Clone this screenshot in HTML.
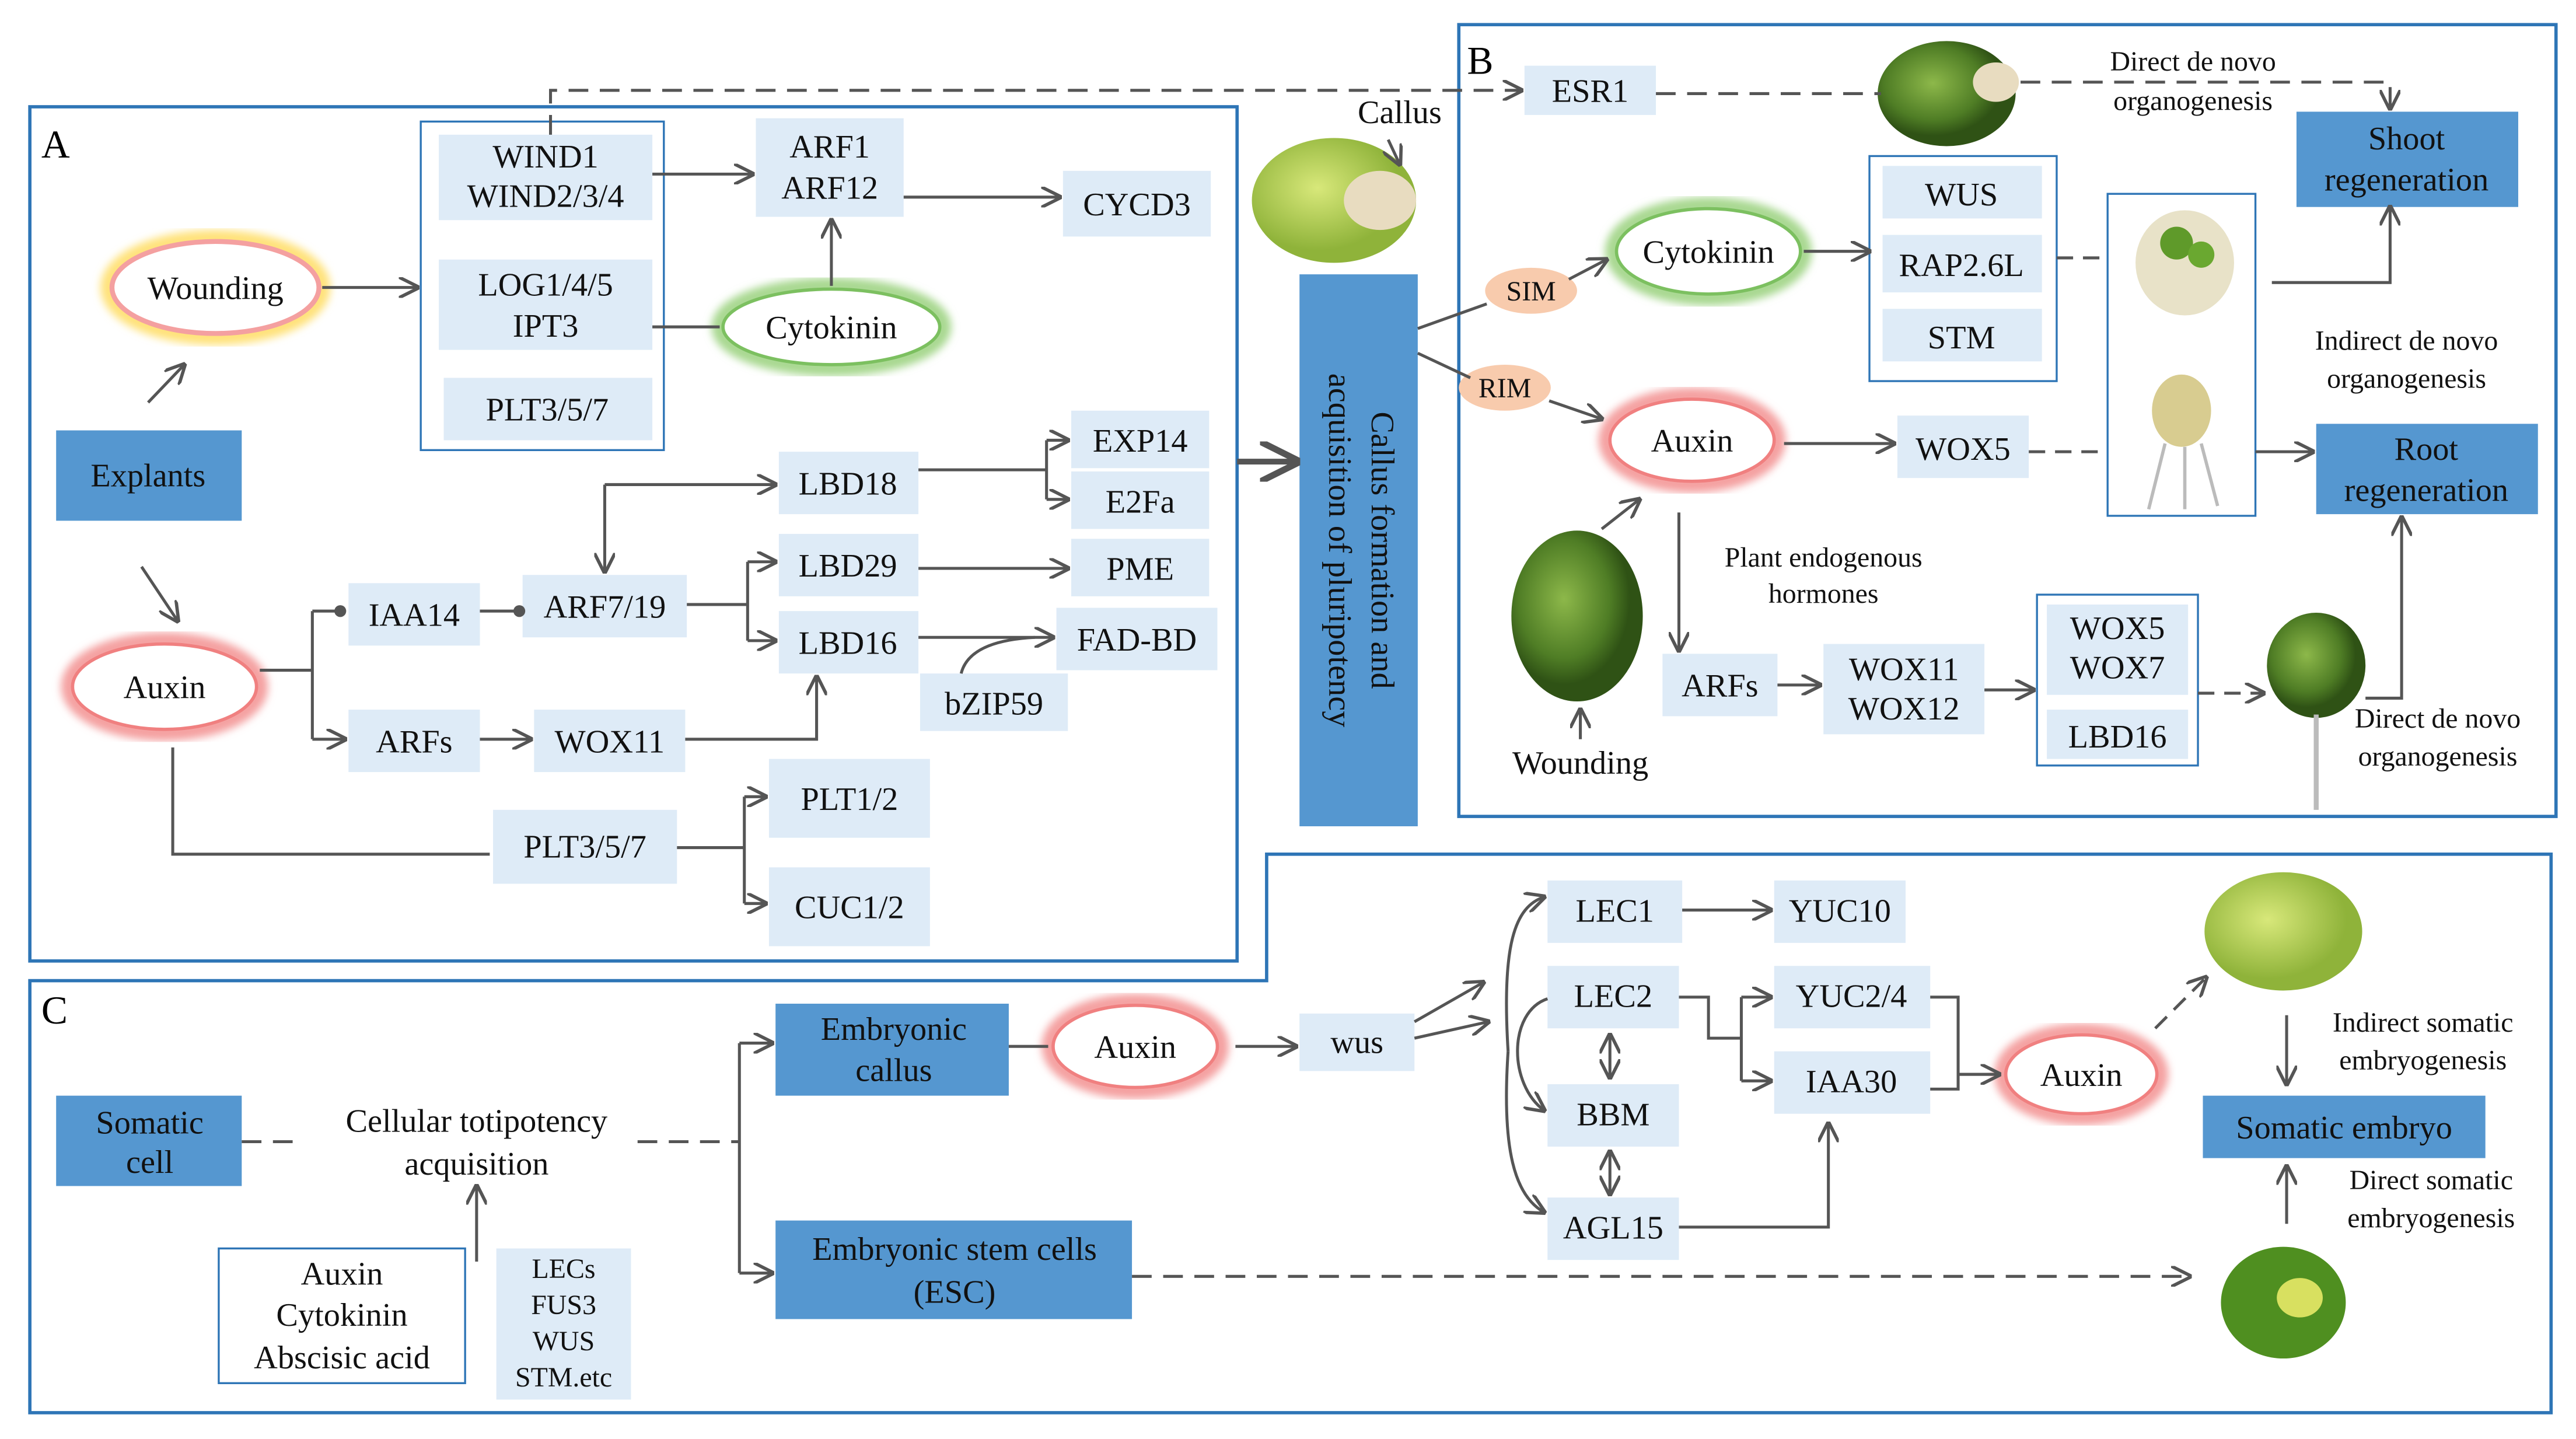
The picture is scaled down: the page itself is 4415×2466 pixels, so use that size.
<!DOCTYPE html>
<html><head><meta charset="utf-8"><style>html,body{margin:0;padding:0;background:#fff}svg{display:block}</style></head>
<body>
<svg xmlns="http://www.w3.org/2000/svg" width="4415" height="2466" viewBox="0 0 1568 876" font-family="Liberation Serif, serif" font-size="20">
<defs>
<marker id="a" viewBox="0 0 10 10" refX="9" refY="5" markerWidth="7" markerHeight="7" orient="auto-start-reverse"><path d="M0,0 L10,5 L0,10" fill="none" stroke="#555" stroke-width="1.6"/></marker>
<marker id="d" viewBox="0 0 10 10" refX="5" refY="5" markerWidth="5" markerHeight="5"><circle cx="5" cy="5" r="4" fill="#555"/></marker>
<filter id="bl"><feGaussianBlur stdDeviation="2.5"/></filter>
<radialGradient id="g1" cx="40%" cy="40%"><stop offset="0" stop-color="#8db84a"/><stop offset="0.7" stop-color="#4f7d25"/><stop offset="1" stop-color="#2f5215"/></radialGradient>
<radialGradient id="g2" cx="40%" cy="40%"><stop offset="0" stop-color="#d8e87a"/><stop offset="1" stop-color="#8fb33a"/></radialGradient>
</defs>
<g fill="none" stroke="#2e75b6" stroke-width="2">
<rect x="18" y="65" width="735" height="520"/>
<rect x="888" y="15" width="668" height="482"/>
<path d="M18,597 H771 V520 H1553 V860 H18 Z"/>
</g>
<g font-size="24"><text x="25" y="96">A</text><text x="893" y="45">B</text><text x="25" y="623">C</text></g>
<g fill="none" stroke="#2e75b6" stroke-width="1.2">
<rect x="256" y="74" width="148" height="200" fill="#fff"/>
<rect x="1138" y="95" width="114" height="137"/>
<rect x="1283" y="118" width="90" height="196"/>
<rect x="1240" y="362" width="98" height="104"/>
<rect x="133" y="760" width="150" height="82"/>
</g>
<g fill="#deebf7">
<rect x="267" y="82" width="130" height="52"/><rect x="267" y="158" width="130" height="55"/><rect x="270" y="230" width="127" height="38"/>
<rect x="460" y="72" width="90" height="60"/><rect x="647" y="104" width="90" height="40"/>
<rect x="212" y="355" width="80" height="38"/><rect x="318" y="350" width="100" height="38"/><rect x="212" y="432" width="80" height="38"/><rect x="325" y="432" width="92" height="38"/>
<rect x="474" y="275" width="85" height="38"/><rect x="474" y="325" width="85" height="38"/><rect x="474" y="372" width="85" height="38"/>
<rect x="652" y="250" width="84" height="35"/><rect x="652" y="287" width="84" height="35"/><rect x="652" y="328" width="84" height="35"/><rect x="643" y="370" width="98" height="38"/><rect x="560" y="410" width="90" height="35"/>
<rect x="468" y="462" width="98" height="48"/><rect x="300" y="493" width="112" height="45"/><rect x="468" y="528" width="98" height="48"/>
<rect x="928" y="40" width="80" height="30"/><rect x="1146" y="101" width="97" height="32"/><rect x="1146" y="143" width="97" height="35"/><rect x="1146" y="188" width="97" height="32"/>
<rect x="1155" y="253" width="80" height="38"/><rect x="1012" y="398" width="70" height="38"/><rect x="1110" y="392" width="98" height="55"/><rect x="1246" y="368" width="86" height="55"/><rect x="1246" y="432" width="86" height="30"/>
<rect x="302" y="760" width="82" height="92"/><rect x="791" y="617" width="70" height="35"/>
<rect x="942" y="536" width="82" height="38"/><rect x="942" y="588" width="80" height="38"/><rect x="942" y="660" width="80" height="38"/><rect x="942" y="729" width="80" height="38"/>
<rect x="1080" y="536" width="80" height="38"/><rect x="1080" y="588" width="95" height="38"/><rect x="1080" y="640" width="95" height="38"/>
</g>
<g fill="#5597d0">
<rect x="34" y="262" width="113" height="55"/><rect x="791" y="167" width="72" height="336"/><rect x="1398" y="68" width="135" height="58"/><rect x="1410" y="258" width="135" height="55"/>
<rect x="34" y="667" width="113" height="55"/><rect x="472" y="611" width="142" height="56"/><rect x="472" y="743" width="217" height="60"/><rect x="1341" y="667" width="172" height="38"/>
</g>
<!-- ovals -->
<g>
<ellipse cx="131" cy="175" rx="65" ry="30" fill="none" stroke="#ffe27a" stroke-width="10" filter="url(#bl)"/>
<ellipse cx="131" cy="175" rx="63" ry="28" fill="#fff" stroke="#f4a0a0" stroke-width="3"/>
<ellipse cx="100" cy="418" rx="58" ry="28" fill="none" stroke="#f4a0a0" stroke-width="10" filter="url(#bl)"/>
<ellipse cx="100" cy="418" rx="56" ry="26" fill="#fff" stroke="#f08080" stroke-width="2"/>
<ellipse cx="506" cy="199" rx="68" ry="25" fill="none" stroke="#a8d890" stroke-width="10" filter="url(#bl)"/>
<ellipse cx="506" cy="199" rx="66" ry="23" fill="#fff" stroke="#7cc060" stroke-width="2"/>
<ellipse cx="1040" cy="153" rx="58" ry="28" fill="none" stroke="#a8d890" stroke-width="10" filter="url(#bl)"/>
<ellipse cx="1040" cy="153" rx="56" ry="26" fill="#fff" stroke="#7cc060" stroke-width="2"/>
<ellipse cx="1030" cy="268" rx="52" ry="27" fill="none" stroke="#f4a0a0" stroke-width="10" filter="url(#bl)"/>
<ellipse cx="1030" cy="268" rx="50" ry="25" fill="#fff" stroke="#f08080" stroke-width="2"/>
<ellipse cx="691" cy="637" rx="52" ry="27" fill="none" stroke="#f4a0a0" stroke-width="10" filter="url(#bl)"/>
<ellipse cx="691" cy="637" rx="50" ry="25" fill="#fff" stroke="#f08080" stroke-width="2"/>
<ellipse cx="1267" cy="654" rx="48" ry="26" fill="none" stroke="#f4a0a0" stroke-width="10" filter="url(#bl)"/>
<ellipse cx="1267" cy="654" rx="46" ry="24" fill="#fff" stroke="#f08080" stroke-width="2"/>
<ellipse cx="932" cy="177" rx="28" ry="14" fill="#f8cbad"/>
<ellipse cx="916" cy="236" rx="28" ry="14" fill="#f8cbad"/>
</g>
<!-- images -->
<g>
<ellipse cx="812" cy="122" rx="50" ry="38" fill="url(#g2)"/><ellipse cx="840" cy="122" rx="22" ry="18" fill="#e8dcc0"/>
<ellipse cx="1185" cy="57" rx="42" ry="32" fill="url(#g1)"/><ellipse cx="1215" cy="50" rx="14" ry="12" fill="#e8dcc0"/>
<ellipse cx="1330" cy="160" rx="30" ry="32" fill="#e8e2c8"/><circle cx="1325" cy="148" r="10" fill="#5f9a2a"/><circle cx="1340" cy="155" r="8" fill="#6aa830"/>
<ellipse cx="1328" cy="250" rx="18" ry="22" fill="#d8cc90"/><path d="M1318,270 l-10,40 M1330,272 v38 M1340,270 l10,38" stroke="#bbb" stroke-width="2"/>
<ellipse cx="960" cy="375" rx="40" ry="52" fill="url(#g1)"/>
<ellipse cx="1410" cy="405" rx="30" ry="32" fill="url(#g1)"/><path d="M1410,435 v58" stroke="#bbb" stroke-width="3"/>
<ellipse cx="1390" cy="567" rx="48" ry="36" fill="url(#g2)"/>
<ellipse cx="1390" cy="793" rx="38" ry="34" fill="#4f8f20"/><ellipse cx="1400" cy="790" rx="14" ry="12" fill="#d8e060"/>
</g>
<!-- connectors -->
<g fill="none" stroke="#555" stroke-width="1.8">
<path d="M397,106 H458" marker-end="url(#a)"/><path d="M550,120 H645" marker-end="url(#a)"/><path d="M506,174 V134" marker-end="url(#a)"/>
<path d="M397,199 H438"/><path d="M196,175 H254" marker-end="url(#a)"/><path d="M90,245 L112,222" marker-end="url(#a)"/><path d="M86,345 L108,378" marker-end="url(#a)"/>
<path d="M158,408 H190 M190,372 V450"/><path d="M190,372 H207" marker-end="url(#d)"/><path d="M190,450 H210" marker-end="url(#a)"/>
<path d="M292,372 H316" marker-end="url(#d)"/>
<path d="M418,368 H455 M455,342 V390"/><path d="M455,342 H472" marker-end="url(#a)"/><path d="M455,390 H472" marker-end="url(#a)"/>
<path d="M368,295 H472" marker-end="url(#a)"/><path d="M368,295 V348" marker-end="url(#a)"/>
<path d="M559,286 H637 M637,268 V304"/><path d="M637,268 H650" marker-end="url(#a)"/><path d="M637,304 H650" marker-end="url(#a)"/>
<path d="M559,346 H650" marker-end="url(#a)"/><path d="M559,388 H641" marker-end="url(#a)"/><path d="M585,410 Q590,390 630,388"/>
<path d="M292,450 H323" marker-end="url(#a)"/><path d="M417,450 H497 V412" marker-end="url(#a)"/>
<path d="M105,455 V520 H298"/><path d="M412,516 H453 M453,485 V550"/><path d="M453,485 H466" marker-end="url(#a)"/><path d="M453,550 H466" marker-end="url(#a)"/>
<path d="M335,82 V55 H926" stroke-dasharray="12,7" marker-end="url(#a)"/>
<path d="M753,281 H789" stroke-width="3.5" marker-end="url(#a)"/>
<path d="M845,85 L852,100" marker-end="url(#a)"/>
<path d="M863,200 L905,185"/><path d="M955,170 L978,158" marker-end="url(#a)"/><path d="M863,215 L895,230"/><path d="M943,244 L975,255" marker-end="url(#a)"/>
<path d="M1098,153 H1138" marker-end="url(#a)"/><path d="M1252,157 H1283" stroke-dasharray="10,6"/><path d="M1383,172 H1455 V126" marker-end="url(#a)"/>
<path d="M1008,57 H1145" stroke-dasharray="12,7"/><path d="M1230,50 H1455 V66" stroke-dasharray="12,7" marker-end="url(#a)"/>
<path d="M1086,270 H1153" marker-end="url(#a)"/><path d="M1235,275 H1283" stroke-dasharray="10,6"/><path d="M1373,275 H1408" marker-end="url(#a)"/>
<path d="M975,322 L998,304" marker-end="url(#a)"/><path d="M1022,312 V396" marker-end="url(#a)"/><path d="M1082,417 H1108" marker-end="url(#a)"/><path d="M1208,420 H1238" marker-end="url(#a)"/>
<path d="M1338,422 H1378" stroke-dasharray="10,6" marker-end="url(#a)"/><path d="M1440,425 H1462 V315" marker-end="url(#a)"/><path d="M962,450 V432" marker-end="url(#a)"/>
<path d="M147,695 H182 M388,695 H450" stroke-dasharray="12,7"/><path d="M450,635 V775"/><path d="M450,635 H470" marker-end="url(#a)"/><path d="M450,775 H470" marker-end="url(#a)"/>
<path d="M290,768 V722" marker-end="url(#a)"/>
<path d="M614,637 H638"/><path d="M752,637 H789" marker-end="url(#a)"/>
<path d="M861,622 L903,598" marker-end="url(#a)"/><path d="M861,632 L906,622" marker-end="url(#a)"/>
<path d="M918,640 C914,575 922,552 940,546" marker-end="url(#a)"/><path d="M918,640 C914,700 922,728 940,738" marker-end="url(#a)"/><path d="M942,608 C918,616 918,660 940,676" marker-end="url(#a)"/>
<path d="M1024,554 H1078" marker-end="url(#a)"/>
<path d="M1022,607 H1040 V632 H1060 M1060,607 V658"/><path d="M1060,607 H1078" marker-end="url(#a)"/><path d="M1060,658 H1078" marker-end="url(#a)"/>
<path d="M980,630 V656" marker-start="url(#a)" marker-end="url(#a)"/><path d="M980,701 V727" marker-start="url(#a)" marker-end="url(#a)"/>
<path d="M1022,747 H1113 V684" marker-end="url(#a)"/>
<path d="M1175,607 H1192 V663 H1175 M1192,654 H1217" /><path d="M1192,654 H1217" marker-end="url(#a)"/>
<path d="M1312,626 L1343,595" stroke-dasharray="10,6" marker-end="url(#a)"/><path d="M1392,618 V660" marker-end="url(#a)"/><path d="M1392,745 V710" marker-end="url(#a)"/>
<path d="M689,777 H1333" stroke-dasharray="12,7" marker-end="url(#a)"/>
</g>
<!-- text -->
<g text-anchor="middle" fill="#111">
<text x="332" y="102">WIND1</text><text x="332" y="126">WIND2/3/4</text>
<text x="332" y="180">LOG1/4/5</text><text x="332" y="205">IPT3</text><text x="333" y="256">PLT3/5/7</text>
<text x="505" y="96">ARF1</text><text x="505" y="121">ARF12</text><text x="692" y="131">CYCD3</text>
<text x="506" y="206">Cytokinin</text><text x="131" y="182">Wounding</text><text x="90" y="296">Explants</text><text x="100" y="425">Auxin</text>
<text x="252" y="381">IAA14</text><text x="368" y="376">ARF7/19</text><text x="252" y="458">ARFs</text><text x="371" y="458">WOX11</text>
<text x="516" y="301">LBD18</text><text x="516" y="351">LBD29</text><text x="516" y="398">LBD16</text>
<text x="694" y="275">EXP14</text><text x="694" y="312">E2Fa</text><text x="694" y="353">PME</text><text x="692" y="396">FAD-BD</text><text x="605" y="435">bZIP59</text>
<text x="517" y="493">PLT1/2</text><text x="356" y="522">PLT3/5/7</text><text x="517" y="559">CUC1/2</text>
<text x="852" y="75">Callus</text>
<text transform="translate(827,335) rotate(90)"><tspan x="0" y="-8">Callus formation and</tspan><tspan x="0" y="18">acquisition of pluripotency</tspan></text>
<text x="968" y="62">ESR1</text><text x="1465" y="91">Shoot</text><text x="1465" y="116">regeneration</text>
<text x="1040" y="160">Cytokinin</text><text x="1194" y="125">WUS</text><text x="1194" y="168">RAP2.6L</text><text x="1194" y="212">STM</text>
<text x="1030" y="275">Auxin</text><text x="1195" y="280">WOX5</text><text x="1477" y="280">Root</text><text x="1477" y="305">regeneration</text>
<text x="1047" y="424">ARFs</text><text x="1159" y="414">WOX11</text><text x="1159" y="438">WOX12</text>
<text x="1289" y="389">WOX5</text><text x="1289" y="413">WOX7</text><text x="1289" y="455">LBD16</text>
<text x="962" y="471">Wounding</text>
<text x="91" y="690">Somatic</text><text x="91" y="714">cell</text>
<text x="290" y="689">Cellular totipotency</text><text x="290" y="715">acquisition</text>
<text x="208" y="782">Auxin</text><text x="208" y="807">Cytokinin</text><text x="208" y="833">Abscisic acid</text>
<text x="544" y="633">Embryonic</text><text x="544" y="658">callus</text><text x="691" y="644">Auxin</text><text x="826" y="641">wus</text>
<text x="581" y="767">Embryonic stem cells</text><text x="581" y="793">(ESC)</text>
<text x="983" y="561">LEC1</text><text x="982" y="613">LEC2</text><text x="982" y="685">BBM</text><text x="982" y="754">AGL15</text>
<text x="1120" y="561">YUC10</text><text x="1127" y="613">YUC2/4</text><text x="1127" y="665">IAA30</text>
<text x="1267" y="661">Auxin</text><text x="1427" y="693">Somatic embryo</text>
</g>
<g text-anchor="middle" font-size="17" fill="#111">
<text x="932" y="183">SIM</text><text x="916" y="242">RIM</text>
<text x="1335" y="43">Direct de novo</text><text x="1335" y="67">organogenesis</text>
<text x="1465" y="213">Indirect de novo</text><text x="1465" y="236">organogenesis</text>
<text x="1110" y="345">Plant endogenous</text><text x="1110" y="367">hormones</text>
<text x="1484" y="443">Direct de novo</text><text x="1484" y="466">organogenesis</text>
<text x="343" y="778">LECs</text><text x="343" y="800">FUS3</text><text x="343" y="822">WUS</text><text x="343" y="844">STM.etc</text>
<text x="1475" y="628">Indirect somatic</text><text x="1475" y="651">embryogenesis</text>
<text x="1480" y="724">Direct somatic</text><text x="1480" y="747">embryogenesis</text>
</g>
</svg>
</body></html>
